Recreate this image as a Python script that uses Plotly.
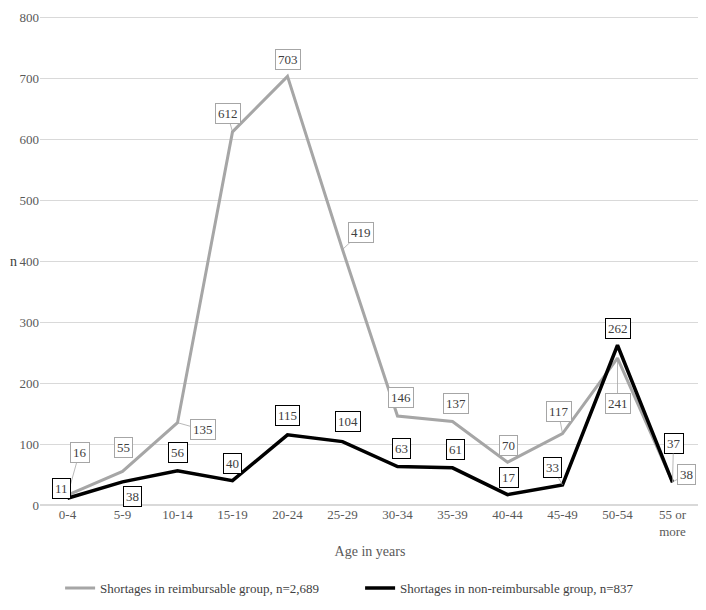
import plotly.graph_objects as go

ages = ["0-4", "5-9", "10-14", "15-19", "20-24", "25-29", "30-34", "35-39",
        "40-44", "45-49", "50-54", "55 or<br>more"]
reimbursable = [16, 55, 135, 612, 703, 419, 146, 137, 70, 117, 241, 38]
non_reimbursable = [11, 38, 56, 40, 115, 104, 63, 61, 17, 33, 262, 37]

# label offsets in screen pixels (dx, dy, leader line?), dy > 0 is down
gray_off = [(12, -43, True), (1, -24, False), (25, 7, True), (-5, -18, True),
            (0, -17, False), (18, -17, True), (3, -18, False), (3, -18, False),
            (1, -17, False), (-4, -22, True), (0, 45, True), (14, -7, True)]
black_off = [(-6, -10, False), (10, 15, False), (0, -18, False), (0, -17, False),
             (0, -19, False), (5, -20, False), (4, -18, False), (3, -18, False),
             (1, -17, False), (-10, -17, True), (0, -17, False), (1, -39, True)]

fnt = "Liberation Serif, Times New Roman, serif"

fig = go.Figure()
fig.add_trace(go.Scatter(x=ages, y=reimbursable, mode="lines",
                         name="Shortages in reimbursable group, n=2,689",
                         line=dict(color="#A6A6A6", width=3)))
fig.add_trace(go.Scatter(x=ages, y=non_reimbursable, mode="lines",
                         name="Shortages in non-reimbursable group, n=837",
                         line=dict(color="#000000", width=3.5)))

def add_labels(vals, offs, border):
    for a, v, (dx, dy, lead) in zip(ages, vals, offs):
        common = dict(x=a, y=v, text=str(v), bgcolor="white",
                      bordercolor=border, borderwidth=1, borderpad=2,
                      font=dict(family=fnt, size=13, color="#404040"))
        if lead:
            fig.add_annotation(**common, showarrow=True, ax=dx, ay=dy,
                               arrowhead=0, arrowwidth=0.8,
                               arrowcolor="#A6A6A6", standoff=0)
        else:
            fig.add_annotation(**common, showarrow=False, xshift=dx, yshift=-dy)

add_labels(reimbursable, gray_off, "#A6A6A6")
add_labels(non_reimbursable, black_off, "#000000")

fig.add_annotation(text="n", x=-0.048, xref="paper", y=400, yref="y",
                   showarrow=False, xanchor="left",
                   font=dict(family=fnt, size=14, color="#404040"))

fig.update_layout(
    width=706, height=610,
    margin=dict(l=32, r=14, t=8, b=113),
    plot_bgcolor="white", paper_bgcolor="white",
    font=dict(family=fnt, size=13, color="#595959"),
    showlegend=True,
    legend=dict(orientation="h", x=0.485, xanchor="center", y=-0.17,
                yanchor="middle", font=dict(family=fnt, size=13, color="#404040"),
                itemwidth=30, entrywidth=255),
    xaxis=dict(range=[-0.5, 11.5], showgrid=False, showline=False, ticks="",
               automargin=False,
               title=dict(text="Age in years", standoff=8,
                          font=dict(family=fnt, size=14, color="#595959"))),
    yaxis=dict(range=[0, 802], dtick=100, showgrid=True, gridcolor="#D9D9D9",
               gridwidth=1, zeroline=True, zerolinecolor="#D9D9D9",
               showline=False, ticks="", automargin=False),
)

fig.write_html("out.html")
